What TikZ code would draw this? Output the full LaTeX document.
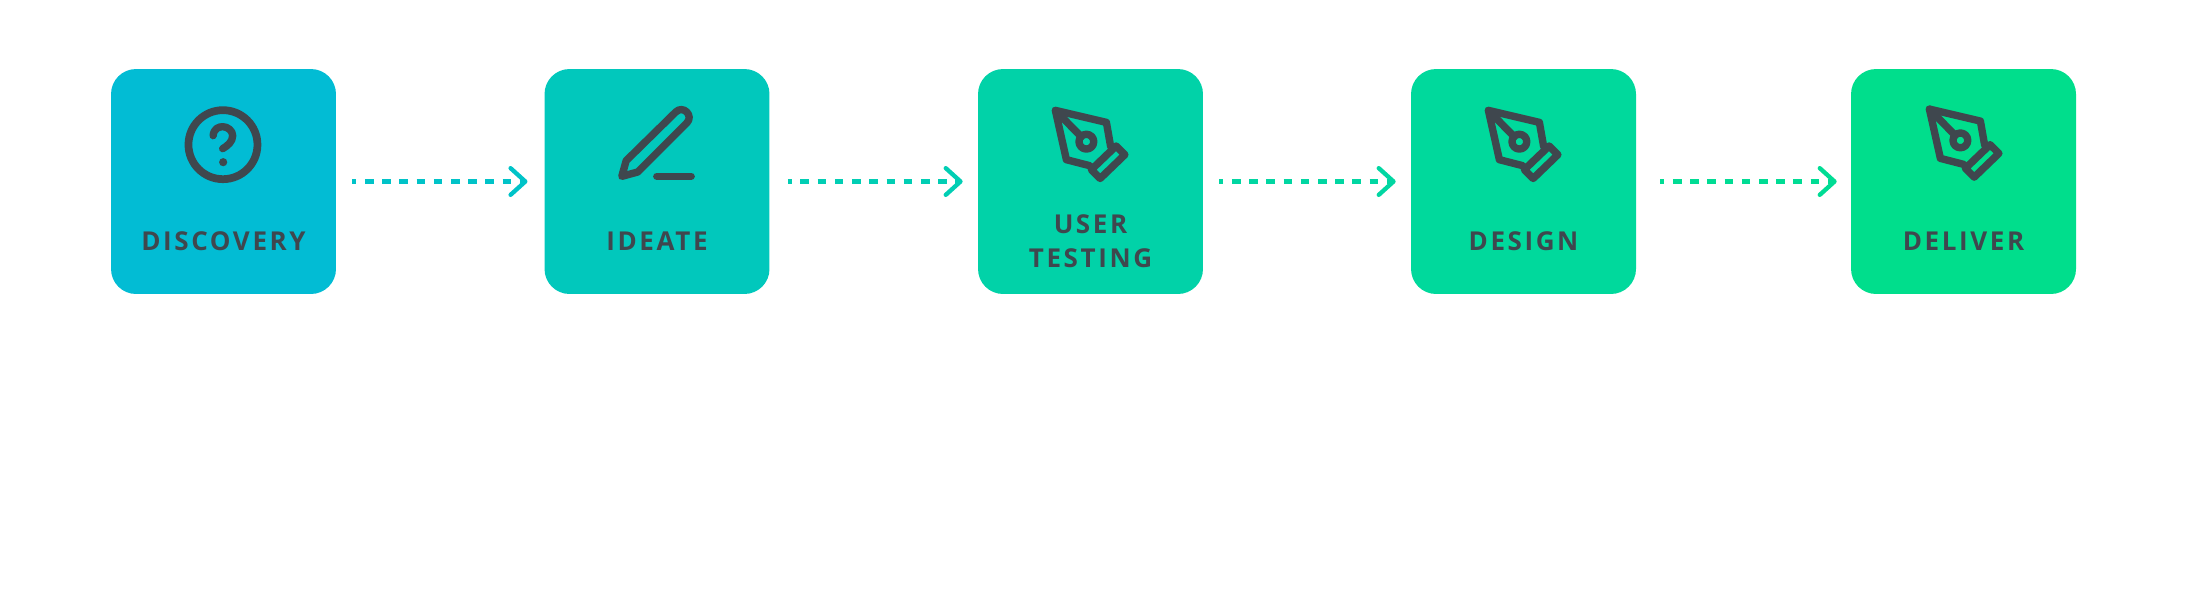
\documentclass[tikz,border=0pt]{standalone}
\usepackage{fontspec}
\newfontfamily\stepfont[LetterSpace=10]{Open Sans}
\usetikzlibrary{
  positioning,
  arrows.meta,
  calc
}
\definecolor{iconGray}{HTML}{3F474E}
\definecolor{flowA}{HTML}{02BCD4}
\definecolor{flowB}{HTML}{01C8BC}
\definecolor{flowC}{HTML}{01D2A8}
\definecolor{flowD}{HTML}{00D99C}
\definecolor{flowE}{HTML}{00DE8C}
\definecolor{lineA}{HTML}{00C3C8}
\definecolor{lineB}{HTML}{01CEB4}
\definecolor{lineC}{HTML}{01D6A2}
\definecolor{lineD}{HTML}{00DC94}
\tikzset{
  stepbox/.style = {rectangle, rounded corners=0.5cm, minimum size=4.5cm,
                    inner sep=0pt},
  steplabel/.style = {anchor=south, align=center, inner sep=0pt, text depth=0pt,
                    text=iconGray, font=\stepfont\bfseries\fontsize{14.8}{19.7}\selectfont},
  flowarrow/.style = {line width=2.45pt, dash pattern=on 4.9pt off 4.9pt,
                    dash phase=2.63pt},
  iconline/.style = {draw=iconGray, line width=4.2pt, line cap=round, line join=round},
  askicon/.pic = {
    \draw[iconline, line width=4.4pt] (112.3,76) circle[radius=34.5];
    \draw[iconline] (102.5,67) .. controls (103,60) and (108,58) .. (112,58)
      .. controls (117,58) and (122,62) .. (122,67)
      .. controls (122,73) and (117,77) .. (112,80);
    \fill[iconGray] (112.5,93.5) circle[radius=4.1];
  },
  pencilicon/.pic = {
    \draw[iconline] (77.6,107.7) -- (82,92) -- (131.6,43.3)
      .. controls (138.9,36) and (149.9,47) .. (142.6,54.3)
      -- (93.6,103.3) -- cycle;
    \draw[iconline] (112.6,107.7) -- (147,107.7);
  },
  nibicon/.pic = {
    % nib body
    \draw[iconline] (133,78) -- (128.7,53.7) -- (77.7,41.7) -- (88.7,91) -- (112,97);
    % slit and hole
    \draw[iconline] (77.7,41.7) -- (103.5,68);
    \draw[iconline] (108.7,73) circle[radius=7.4];
    % collar
    \draw[iconline] (138.4,77.3) -- (147.2,86) -- (122.5,109.8) -- (113.7,101) -- cycle;
  }
}
\begin{document}
\begin{tikzpicture}[x=0.02cm, y=-0.02cm]
  \useasboundingbox (0,0) rectangle (2199,596);
  % Five steps, left to right
  \foreach \i/\x/\col in {
      1/223.5/flowA,
      2/657/flowB,
      3/1090.5/flowC,
      4/1523.5/flowD,
      5/1963.5/flowE}{
    \node[stepbox, fill=\col] (box\i) at (\x, 181.5) {};
  }
  % Labels
  \node[steplabel] (label1) at ($(box1.south)+(0,-43)$) {DISCOVERY};
  \node[steplabel] (label2) at ($(box2.south)+(0,-43)$) {IDEATE};
  \node[steplabel] (label3) at ($(box3.south)+(0,-26)$) {USER\\TESTING};
  \node[steplabel] (label4) at ($(box4.south)+(0,-43)$) {DESIGN};
  \node[steplabel] (label5) at ($(box5.south)+(0,-43)$) {DELIVER};
  % Icons
  \pic at (box1.north west) {askicon};
  \pic at (box2.north west) {pencilicon};
  \pic at (box3.north west) {nibicon};
  \pic at (box4.north west) {nibicon};
  \pic at ($(box5.north west)+(1,-1.3)$) {nibicon};
  % Dotted connectors
  \foreach \a/\b/\sl/\sr/\col in {
      1/2/16/16.7/lineA,
      2/3/18/15/lineB,
      3/4/16/15/lineC,
      4/5/24/14/lineD}{
    \draw[flowarrow, draw=\col, shorten <=\sl*0.02cm, shorten >=\sr*0.02cm,
          -{Straight Barb[length=8.4pt, width=15.2pt, line width=2.45pt, round]}]
         (box\a) -- (box\b);
  }
\end{tikzpicture}
\end{document}
